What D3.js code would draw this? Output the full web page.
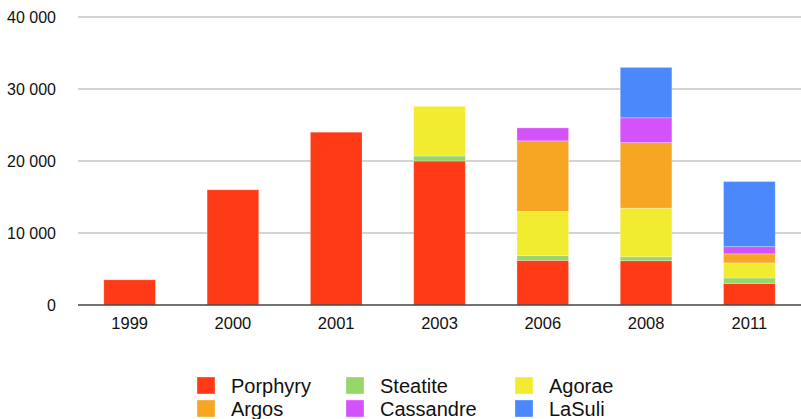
<!DOCTYPE html>
<html>
<head>
<meta charset="utf-8">
<script src="https://cdn.jsdelivr.net/npm/d3@7"></script>
<style>
  body { margin: 0; background: #fff; }
  svg { font-family: "Liberation Sans", Arial, Helvetica, sans-serif; }
</style>
</head>
<body>
<svg width="801" height="419"></svg>
<script>
// categories (years) and series, bottom to top of the stack
const years = ["1999", "2000", "2001", "2003", "2006", "2008", "2011"];
const seriesNames = ["Porphyry", "Steatite", "Agorae", "Argos", "Cassandre", "LaSuli"];
const seriesColors = ["#ff3a17", "#97d66a", "#f2ec31", "#f6a623", "#d452fa", "#4a88fb"];

const porphyry  = [3500, 16000, 24000, 20000, 6200, 6150, 3000];
const steatite  = [0, 0, 0, 700, 650, 550, 750];
const agorae    = [0, 0, 0, 6900, 6150, 6750, 2100];
const argos     = [0, 0, 0, 0, 9800, 9100, 1250];
const cassandre = [0, 0, 0, 0, 1800, 3450, 1000];
const lasuli    = [0, 0, 0, 0, 0, 7000, 9050];

const yTicks = [0, 10000, 20000, 30000, 40000];
// legend order as laid out (row by row)
const legendOrder = ["Porphyry", "Steatite", "Agorae", "Argos", "Cassandre", "LaSuli"];

const seriesValues = [porphyry, steatite, agorae, argos, cassandre, lasuli];
let table = years.map((y, i) => {
  let row = { year: y };
  seriesNames.forEach((s, k) => row[s] = seriesValues[k][i]);
  return row;
});

let svg = d3.select("svg");
let margin = { left: 78, right: 0, top: 17, bottom: 114 };
let width = 801, height = 419;

let x = d3.scaleBand()
  .domain(years)
  .range([margin.left, width - margin.right])
  .paddingInner(0.5)
  .paddingOuter(0.25);

let y = d3.scaleLinear()
  .domain([0, 40000])
  .range([height - margin.bottom, margin.top]);

let color = d3.scaleOrdinal().domain(seriesNames).range(seriesColors);

let fmt = v => d3.format(",")(v).replace(/,/g, " ");

// gridlines
svg.append("g")
  .selectAll("line")
  .data(yTicks.filter(d => d > 0))
  .join("line")
  .attr("x1", margin.left)
  .attr("x2", width)
  .attr("y1", d => y(d))
  .attr("y2", d => y(d))
  .attr("stroke", "#c4c4c4")
  .attr("stroke-width", 1.3);

// y axis labels
svg.append("g")
  .selectAll("text")
  .data(yTicks)
  .join("text")
  .attr("x", 56)
  .attr("y", d => y(d))
  .attr("dy", "0.36em")
  .attr("text-anchor", "end")
  .style("font-size", "16px")
  .attr("fill", "#111")
  .text(fmt);

// stacked bars
let stack = d3.stack().keys(seriesNames)(table);

svg.append("g")
  .selectAll("g")
  .data(stack)
  .join("g")
  .attr("fill", d => color(d.key))
  .selectAll("rect")
  .data(d => d.filter(p => p[1] > p[0]))
  .join("rect")
  .attr("x", d => x(d.data.year))
  .attr("width", x.bandwidth())
  .attr("y", d => y(d[1]))
  .attr("height", d => y(d[0]) - y(d[1]))
  .attr("stroke", "rgba(255,255,255,0.35)")
  .attr("stroke-width", 0.8);

// baseline
svg.append("line")
  .attr("x1", margin.left)
  .attr("x2", width)
  .attr("y1", y(0))
  .attr("y2", y(0))
  .attr("stroke", "#444")
  .attr("stroke-width", 1.5);

// x labels
svg.append("g")
  .selectAll("text")
  .data(years)
  .join("text")
  .attr("x", d => x(d) + x.bandwidth() / 2)
  .attr("y", y(0) + 24)
  .attr("text-anchor", "middle")
  .style("font-size", "16.5px")
  .attr("fill", "#111")
  .text(d => d);

// legend
let colX = [197, 346, 515];
let rowY = [377, 400];
let legend = svg.append("g")
  .selectAll("g")
  .data(legendOrder)
  .join("g")
  .attr("transform", (d, i) => `translate(${colX[i % 3]},${rowY[Math.floor(i / 3)]})`);

legend.append("rect")
  .attr("width", 18)
  .attr("height", 17)
  .attr("fill", d => color(d))
  .attr("stroke", "rgba(255,255,255,0.4)")
  .attr("stroke-width", 0.8);

legend.append("text")
  .attr("x", 34)
  .attr("y", 16)
  .style("font-size", "20px")
  .attr("fill", "#111")
  .text(d => d);
</script>
</body>
</html>
